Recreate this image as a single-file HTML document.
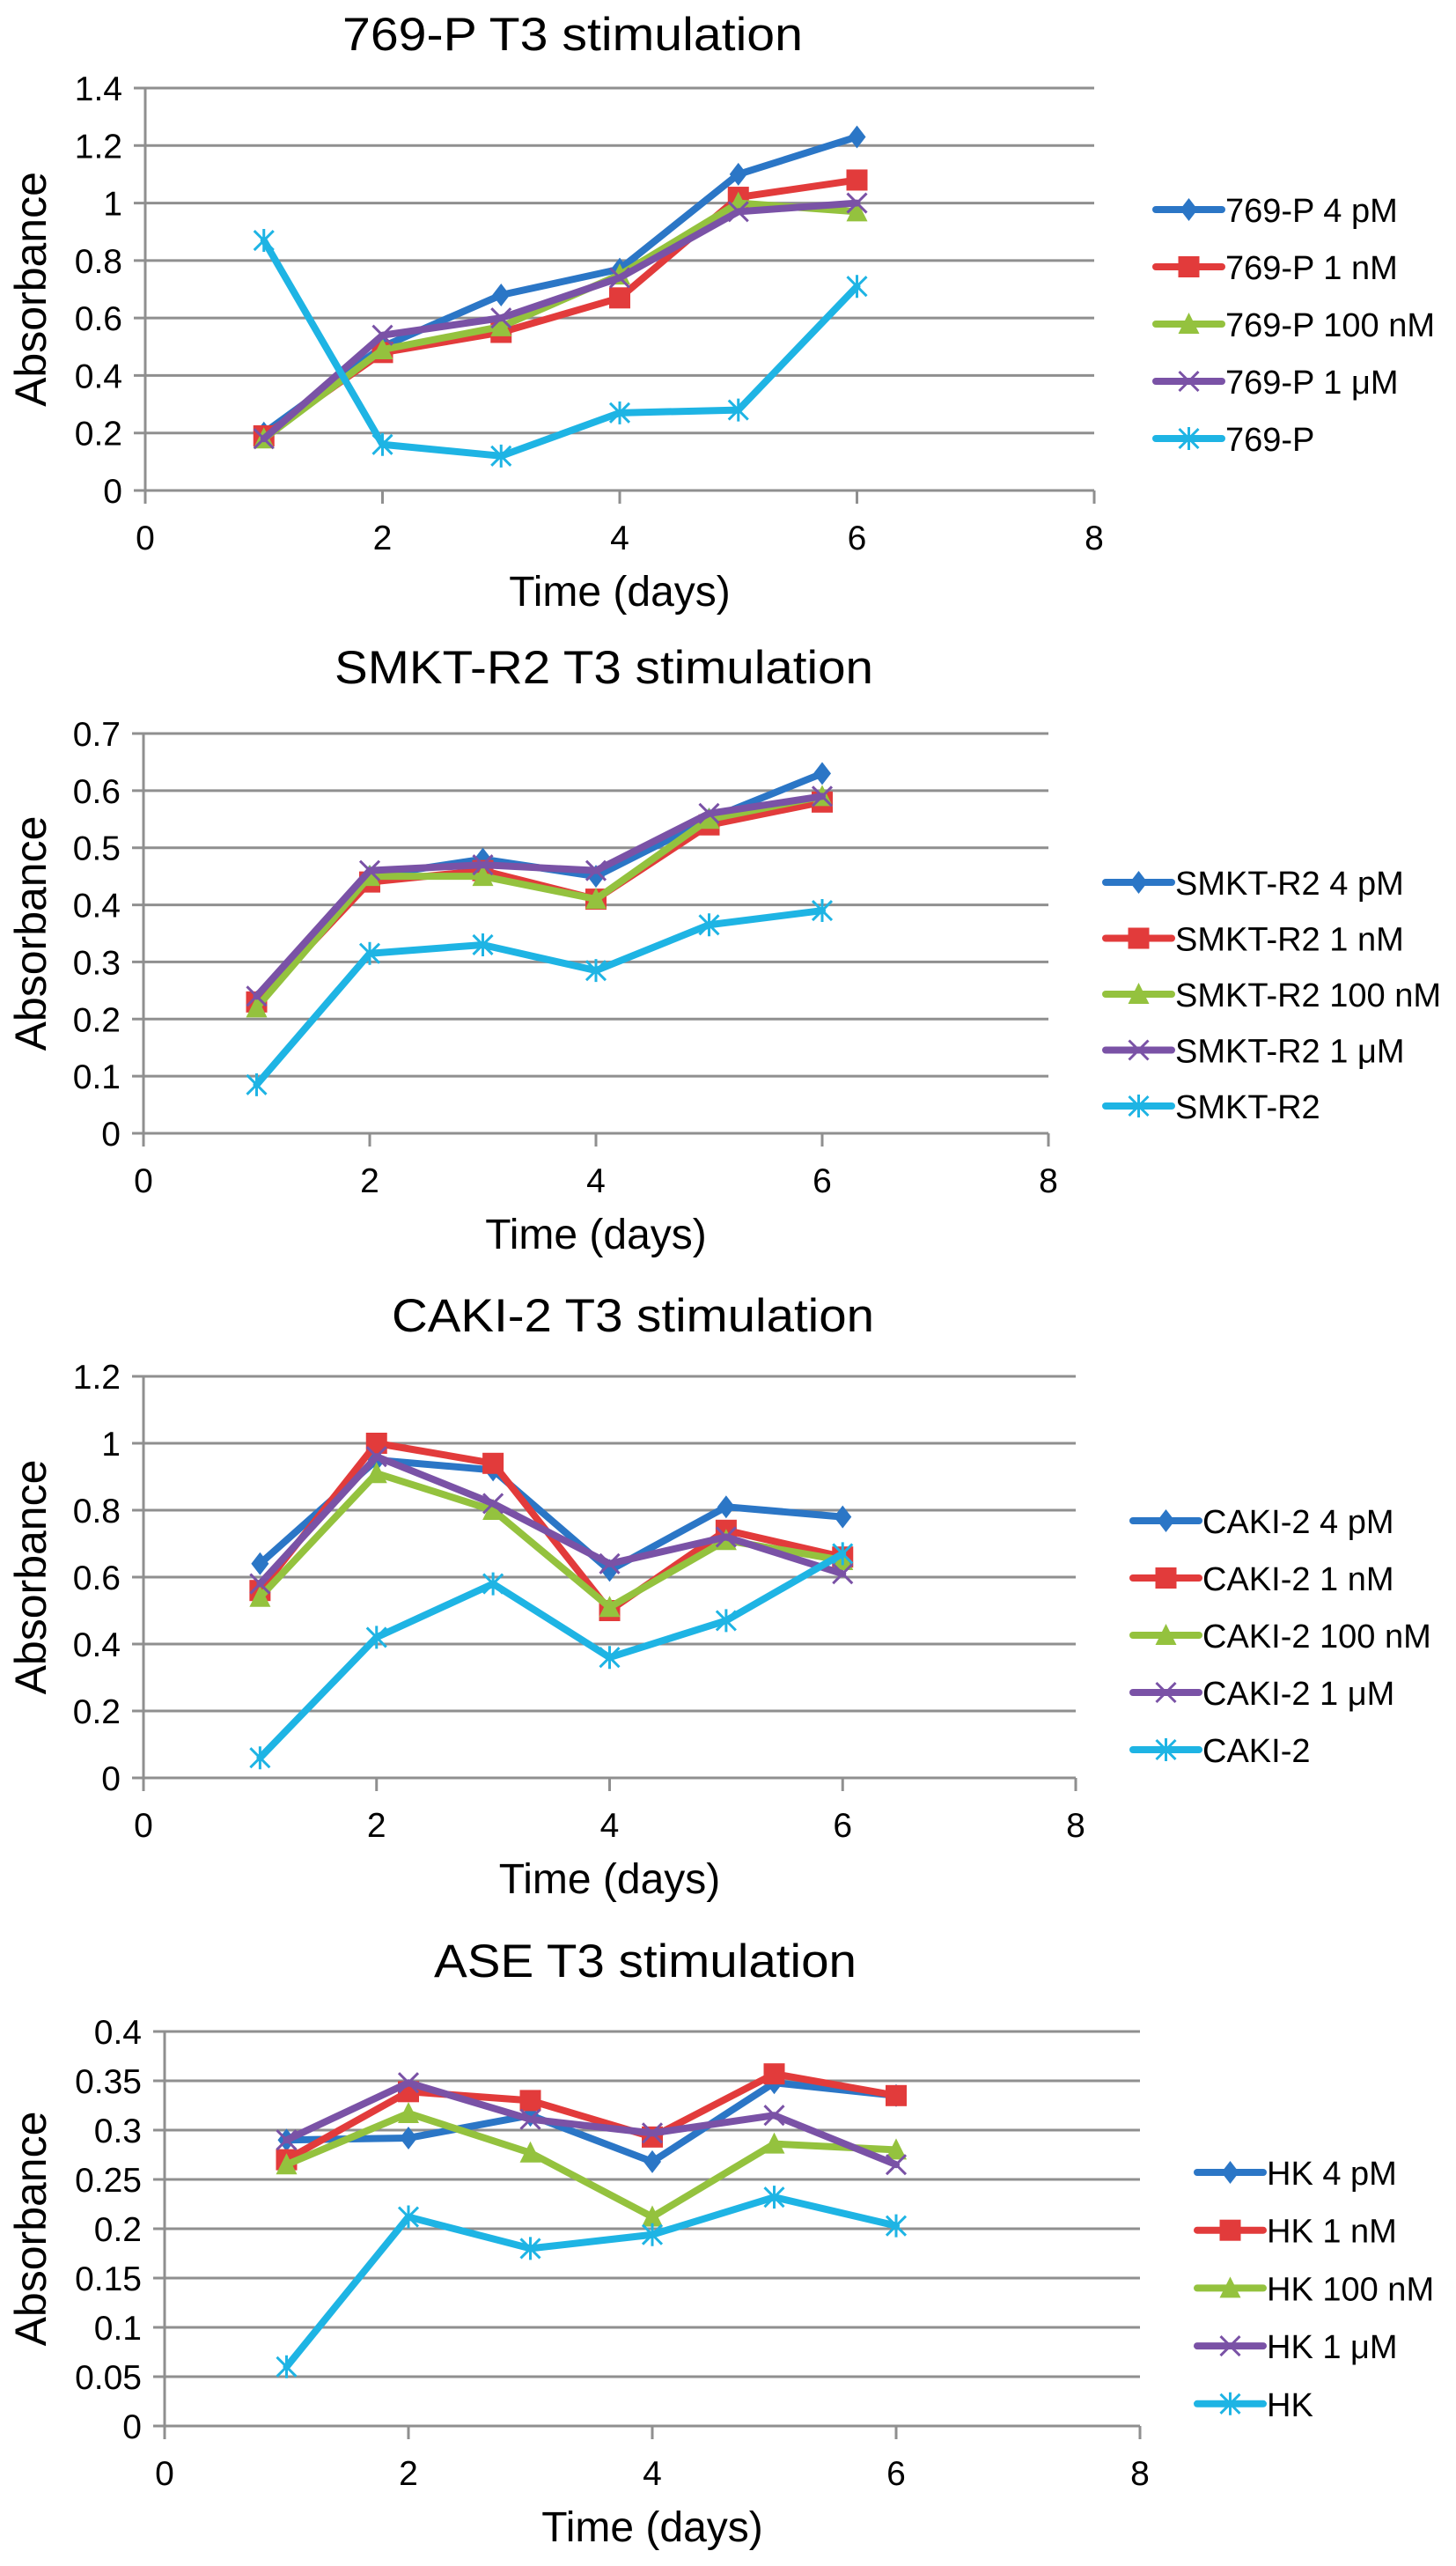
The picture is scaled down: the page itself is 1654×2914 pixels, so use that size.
<!DOCTYPE html>
<html><head><meta charset="utf-8"><style>
html,body{margin:0;padding:0;background:#fff;}
svg{display:block;font-family:"Liberation Sans",Arial,sans-serif;}
</style></head><body>
<svg id="fig" width="1654" height="2914" viewBox="0 0 1654 2914" xmlns="http://www.w3.org/2000/svg"></svg>
<script>
// ---- data ----
const days = [1,2,3,4,5,6];
const xTicks = ["0","2","4","6","8"];
const seriesSuffix = [" 4 pM"," 1 nM"," 100 nM"," 1 μM",""];

const c1Names = ["769-P","769-P","769-P","769-P","769-P"];
const c1s4pM  = [0.20,0.50,0.68,0.77,1.10,1.23];
const c1s1nM  = [0.19,0.48,0.55,0.67,1.02,1.08];
const c1s100nM= [0.18,0.49,0.57,0.75,1.00,0.97];
const c1s1uM  = [0.18,0.54,0.60,0.74,0.97,1.00];
const c1ctrl  = [0.87,0.16,0.12,0.27,0.28,0.71];
const c1Ticks = ["0","0.2","0.4","0.6","0.8","1","1.2","1.4"];

const c2s4pM  = [0.23,0.45,0.48,0.45,0.55,0.63];
const c2s1nM  = [0.23,0.44,0.46,0.41,0.54,0.58];
const c2s100nM= [0.22,0.45,0.45,0.41,0.55,0.59];
const c2s1uM  = [0.24,0.46,0.47,0.46,0.56,0.59];
const c2ctrl  = [0.085,0.315,0.33,0.285,0.365,0.39];
const c2Ticks = ["0","0.1","0.2","0.3","0.4","0.5","0.6","0.7"];

const c3s4pM  = [0.64,0.95,0.92,0.62,0.81,0.78];
const c3s1nM  = [0.56,1.00,0.94,0.50,0.74,0.66];
const c3s100nM= [0.54,0.91,0.80,0.51,0.71,0.65];
const c3s1uM  = [0.58,0.96,0.82,0.64,0.72,0.61];
const c3ctrl  = [0.06,0.42,0.58,0.36,0.47,0.67];
const c3Ticks = ["0","0.2","0.4","0.6","0.8","1","1.2"];

const c4s4pM  = [0.29,0.292,0.315,0.268,0.348,0.335];
const c4s1nM  = [0.27,0.339,0.33,0.293,0.357,0.335];
const c4s100nM= [0.265,0.317,0.277,0.212,0.286,0.28];
const c4s1uM  = [0.29,0.348,0.311,0.297,0.315,0.265];
const c4ctrl  = [0.06,0.212,0.18,0.194,0.232,0.203];
const c4Ticks = ["0","0.05","0.1","0.15","0.2","0.25","0.3","0.35","0.4"];

// ---- layout ----
const colors = ["#2b76c6","#e23b3b","#94c23e","#7a52a6","#1eb4e4"];
const markers = ["diamond","square","triangle","x","star"];
const charts = [
 {key:"769p", title:"769-P T3 stimulation", prefix:"769-P", tx:389, tlen:523, tb:57,
  x0:165, x8:1243, yTop:100, yZero:557, ymax:1.4, ticks:c1Ticks,
  series:[c1s4pM,c1s1nM,c1s100nM,c1s1uM,c1ctrl], lx:1313, ly:238, ldy:65},
 {key:"smkt", title:"SMKT-R2 T3 stimulation", prefix:"SMKT-R2", tx:380, tlen:612, tb:776,
  x0:163, x8:1191, yTop:833, yZero:1287, ymax:0.7, ticks:c2Ticks,
  series:[c2s4pM,c2s1nM,c2s100nM,c2s1uM,c2ctrl], lx:1256, ly:1002, ldy:63.5},
 {key:"caki", title:"CAKI-2 T3 stimulation", prefix:"CAKI-2", tx:445, tlen:548, tb:1512,
  x0:163, x8:1222, yTop:1563, yZero:2019, ymax:1.2, ticks:c3Ticks,
  series:[c3s4pM,c3s1nM,c3s100nM,c3s1uM,c3ctrl], lx:1287, ly:1727, ldy:65},
 {key:"ase", title:"ASE T3 stimulation", prefix:"HK", tx:493, tlen:480, tb:2245,
  x0:187, x8:1295, yTop:2307, yZero:2755, ymax:0.4, ticks:c4Ticks,
  series:[c4s4pM,c4s1nM,c4s100nM,c4s1uM,c4ctrl], lx:1360, ly:2467, ldy:65.7}
];

const NS="http://www.w3.org/2000/svg";
const svg=document.getElementById('fig');
function mk(tag,attrs,parent){const e=document.createElementNS(NS,tag);for(const k in attrs)e.setAttribute(k,attrs[k]);(parent||svg).appendChild(e);return e;}

function marker(g,type,cx,cy,col){
  let m;
  if(type==="diamond"){m=mk('polygon',{points:`${cx},${cy-13} ${cx+10},${cy} ${cx},${cy+13} ${cx-10},${cy}`,fill:col},g);}
  else if(type==="square"){m=mk('rect',{x:cx-12,y:cy-12,width:24,height:24,fill:col},g);}
  else if(type==="triangle"){m=mk('polygon',{points:`${cx},${cy-13} ${cx+12},${cy+11} ${cx-12},${cy+11}`,fill:col},g);}
  else if(type==="x"){m=mk('path',{d:`M${cx-11},${cy-11}L${cx+11},${cy+11}M${cx+11},${cy-11}L${cx-11},${cy+11}`,stroke:col,'stroke-width':3,fill:'none'},g);}
  else {m=mk('path',{d:`M${cx-11},${cy-11}L${cx+11},${cy+11}M${cx+11},${cy-11}L${cx-11},${cy+11}M${cx},${cy-13}L${cx},${cy+13}`,stroke:col,'stroke-width':3,fill:'none'},g);}
  
  
}

charts.forEach(c=>{
  const g=mk('g',{});
  
  
  const xs=v=>c.x0+(c.x8-c.x0)*v/8;
  const ys=v=>c.yZero-(c.yZero-c.yTop)*v/c.ymax;
  const step=c.ymax/(c.ticks.length-1);
  // title
  const t=mk('text',{x:c.tx,y:c.tb,'font-size':53,textLength:c.tlen,lengthAdjust:'spacingAndGlyphs',fill:'#000'},g);
  t.textContent=c.title;
  
  
  // gridlines + y tick labels
  c.ticks.forEach((lab,i)=>{
    const y=ys(i*step);
    const l=mk('line',{x1:c.x0-13,y1:y,x2:c.x8,y2:y,stroke:'#8f8f8f','stroke-width':3},g);
    
    
    const tl=mk('text',{x:c.x0-26,y:y+14,'font-size':39,'text-anchor':'end',fill:'#000'},g);
    tl.textContent=lab;
    
    
  });
  // y axis
  const ya=mk('line',{x1:c.x0,y1:c.yTop,x2:c.x0,y2:c.yZero+15,stroke:'#8f8f8f','stroke-width':3},g);
  
  
  // x ticks
  xTicks.forEach(lab=>{
    const x=xs(+lab);
    const tk=mk('line',{x1:x,y1:c.yZero,x2:x,y2:c.yZero+15,stroke:'#8f8f8f','stroke-width':3},g);
    
    
    const tl=mk('text',{x:x,y:c.yZero+67,'font-size':39,'text-anchor':'middle',fill:'#000'},g);
    tl.textContent=lab;
    
    
  });
  // axis titles
  const xt=mk('text',{x:(c.x0+c.x8)/2,y:c.yZero+131,'font-size':48,'text-anchor':'middle',fill:'#000'},g);
  xt.textContent="Time (days)";
  
  
  const ym=(c.yTop+c.yZero)/2;
  const yt=mk('text',{x:0,y:0,'font-size':50,'text-anchor':'middle',fill:'#000',transform:`translate(52,${ym}) rotate(-90)`},g);
  yt.textContent="Absorbance";
  
  
  // series
  c.series.forEach((vals,si)=>{
    const sg=mk('g',{},g);
    
    
    const pts=vals.map((v,i)=>`${xs(days[i])},${ys(v)}`).join(' ');
    const pl=mk('polyline',{points:pts,fill:'none',stroke:colors[si],'stroke-width':8,'stroke-linejoin':'round','stroke-linecap':'round'},sg);
    
    
    vals.forEach((v,i)=>marker(sg,markers[si],xs(days[i]),ys(v),colors[si]));
  });
  // legend
  const lg=mk('g',{},g);
  
  
  seriesSuffix.forEach((suf,si)=>{
    const y=c.ly+si*c.ldy;
    const eg=mk('g',{},lg);
    
    
    mk('line',{x1:c.lx,y1:y,x2:c.lx+75,y2:y,stroke:colors[si],'stroke-width':8,'stroke-linecap':'round'},eg);
    marker(eg,markers[si],c.lx+37.5,y,colors[si]);
    const tx=mk('text',{x:c.lx+79,y:y+14,'font-size':38,fill:'#000'},eg);
    tx.textContent=c.prefix+suf;
    
    
  });
});
</script>
</body></html>
